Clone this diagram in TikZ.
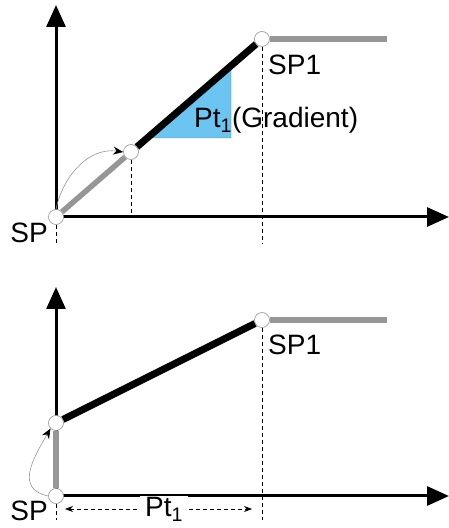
\documentclass[tikz,border=0pt]{standalone}
\usepackage{fontspec}
\setmainfont{Liberation Sans}
\usetikzlibrary{arrows.meta, positioning, backgrounds}
\definecolor{RampGray}{RGB}{150,150,150}
\definecolor{RampBlue}{RGB}{108,196,240}

\begin{document}
\begin{tikzpicture}[x=1pt, y=1pt,
          knot/.style={circle, draw=RampGray, line width=0.6pt, fill=white,
                       minimum size=15pt, inner sep=0pt},
          lbl/.style={font=\fontsize{28}{32}\selectfont, inner sep=0pt},
          axis/.style={line width=3pt, -{Triangle[length=22pt, width=19pt]}},
          ramp/.style={line width=7pt},
          hold/.style={line width=5.5pt, RampGray},
          guide/.style={line width=0.7pt, dash pattern=on 4pt off 3pt},
          swing/.style={line width=0.6pt, RampGray,
                        -{Stealth[length=10pt, width=8pt, black]}}
        ]
        \useasboundingbox (0,0) rectangle (449,528);

        % upper graph: ramp with gradient
        \node[knot] (a0) at (56, 311) {};
        \node[knot] (a1) at (131, 376) {};
        \node[knot] (a2) at (262, 489) {};
        \coordinate (ay) at (56, 523);
        \coordinate (ax) at (449, 311);
        \coordinate (aend) at (387, 489);
        \coordinate (a1foot) at (131, 311);
        \coordinate (a2foot) at (262, 285);
        \coordinate (a0foot) at (56, 285);
        \coordinate (tri1) at (147, 390);
        \coordinate (tri2) at (231, 390);
        \coordinate (tri3) at (231, 462);

        \node[lbl, anchor=base] (asp) at (29, 285) {SP};
        \node[lbl, anchor=base west] (asp1) at (268, 453) {SP1};
        \node[lbl, anchor=base west] (agrad) at (194, 400)
              {Pt\textsubscript{1}(Gradient)};

        % lower graph: step then ramp over time
        \node[knot] (b0) at (56, 32) {};
        \node[knot] (b1) at (56, 105) {};
        \node[knot] (b2) at (262, 208) {};
        \coordinate (by) at (56, 241);
        \coordinate (bx) at (449, 32);
        \coordinate (bstop) at (387, 208);
        \coordinate (b2foot) at (262, 8);
        \coordinate (b0foot) at (56, 8);
        \coordinate (tl) at (65, 19);
        \coordinate (tr) at (252, 19);

        \node[lbl, anchor=base] (bsp) at (29, 8) {SP};
        \node[lbl, anchor=base west] (bsp1) at (268, 173) {SP1};

        \begin{scope}[on background layer]
          \fill[RampBlue, draw=RampBlue!70!black, line width=0.4pt]
                (tri1) -- (tri2) -- (tri3) -- cycle;
          \draw[axis] (a0.center) -- (ay);
          \draw[axis] (a0.center) -- (ax);
          \draw[guide] (a1) -- (a1foot);
          \draw[guide] (a2) -- (a2foot);
          \draw[guide] (a0) -- (a0foot);
          \draw[hold] (a0) -- (a1);
          \draw[ramp] (a1) -- (a2);
          \draw[hold] (a2) -- (aend);

          \draw[axis] (b0.center) -- (by);
          \draw[axis] (b0.center) -- (bx);
          \draw[guide] (b2) -- (b2foot);
          \draw[guide] (b0) -- (b0foot);
          \draw[hold] (b0) -- (b1);
          \draw[ramp] (b1) -- (b2);
          \draw[hold] (b2) -- (bstop);
        \end{scope}

        \draw[swing] (a0.north) to[out=78, in=172] (a1.west);
        \draw[swing] (b0.west) to[out=168, in=240, looseness=1.3] (b1.south west);

        \draw[guide, {Stealth[length=8pt, width=6pt]}-{Stealth[length=8pt, width=6pt]}]
              (tl) -- (tr)
              node[lbl, pos=0.53, fill=white, inner xsep=5pt, inner ysep=1pt]
              (bpt) {Pt\textsubscript{1}};
      \end{tikzpicture}
\end{document}
